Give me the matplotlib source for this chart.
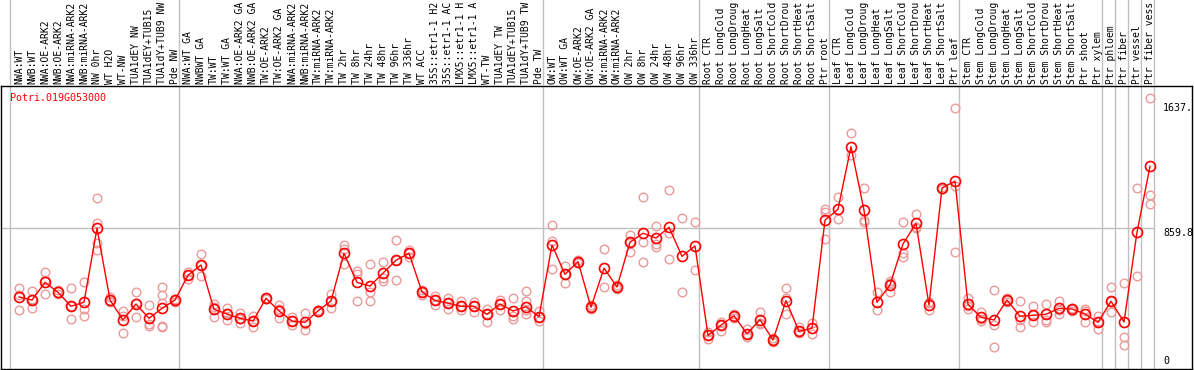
import numpy as np
import matplotlib.pyplot as plt

# sample names, left to right
samples = [
    'NWA:WT', 'NWB:WT', 'NWA:OE-ARK2', 'NWB:OE-ARK2', 'NWA:miRNA-ARK2',
    'NWB:miRNA-ARK2', 'NW 0hr', 'WT H2O', 'WT-NW', 'TUA1dEY NW',
    'TUA1dEY+TUB15 NW', 'TUA1dY+TUB9 NW', 'Pde NW',
    'NWA:WT GA', 'NWBWT GA', 'TW:WT', 'TW:WT GA', 'NWA:OE-ARK2 GA',
    'NWB:OE-ARK2 GA', 'TW:OE-ARK2', 'TW:OE-ARK2 GA', 'NWA:miRNA-ARK2',
    'NWB:miRNA-ARK2', 'TW:miRNA-ARK2', 'TW:miRNA-ARK2', 'TW 2hr', 'TW 8hr',
    'TW 24hr', 'TW 48hr', 'TW 96hr', 'TW 336hr', 'WT ACC', '35S::etr1-1 H2O',
    '35S::etr1-1 ACC', 'LMX5::etr1-1 H2O', 'LMX5::etr1-1 ACC', 'WT-TW',
    'TUA1dEY TW', 'TUA1dEY+TUB15 TW', 'TUA1dY+TUB9 TW', 'Pde TW',
    'OW:WT', 'OW:WT GA', 'OW:OE-ARK2', 'OW:OE-ARK2 GA', 'OW:miRNA-ARK2',
    'OW:miRNA-ARK2', 'OW 2hr', 'OW 8hr', 'OW 24hr', 'OW 48hr', 'OW 96hr',
    'OW 336hr',
    'Root CTR', 'Root LongCold', 'Root LongDrought', 'Root LongHeat',
    'Root LongSalt', 'Root ShortCold', 'Root ShortDrought', 'Root ShortHeat',
    'Root ShortSalt', 'Ptr root',
    'Leaf CTR', 'Leaf LongCold', 'Leaf LongDrought', 'Leaf LongHeat',
    'Leaf LongSalt', 'Leaf ShortCold', 'Leaf ShortDrought', 'Leaf ShortHeat',
    'Leaf ShortSalt', 'Ptr leaf',
    'Stem CTR', 'Stem LongCold', 'Stem LongDrought', 'Stem LongHeat',
    'Stem LongSalt', 'Stem ShortCold', 'Stem ShortDrought', 'Stem ShortHeat',
    'Stem ShortSalt', 'Ptr shoot', 'Ptr xylem',
    'Ptr phloem', 'Ptr fiber', 'Ptr vessel', 'Ptr fiber vessel',
]

# mean expression per sample
means = [
    430, 411, 521, 459, 372, 397, 858, 411, 287, 386, 297, 359, 411,
    565, 629, 353, 324, 297, 280, 422, 343, 280, 272, 343, 405, 702, 521,
    498, 578, 659, 702, 461, 409, 391, 372, 372, 322, 386, 343, 369, 307,
    754, 571, 650, 366, 609, 492, 771, 827, 797, 864, 683, 748,
    191, 254, 313, 201, 288, 162, 407, 216, 235, 908,
    976, 1366, 970, 397, 505, 760, 889, 380, 1109, 1151,
    384, 303, 287, 411, 310, 316, 322, 359, 355, 324, 272,
    403, 274, 833, 1244,
]

# individual replicates per sample
replicates = [
    [484, 440, 349], [467, 415, 361], [584, 536, 449], [473, 449],
    [486, 372, 293], [523, 355, 310], [1047, 891, 766, 723], [428, 397, 405],
    [343, 312, 206], [461, 394, 303], [380, 260, 251],
    [492, 440, 394, 251, 241], [419, 411, 401],
    [587, 565, 543], [698, 629, 561], [388, 307, 365], [359, 285, 328],
    [332, 266, 293], [312, 245, 283], [422, 418, 426], [380, 297, 352],
    [307, 280, 255], [328, 224, 264], [343, 350, 336], [449, 405, 363],
    [754, 727, 634], [592, 571, 405], [634, 459, 405], [646, 546, 531],
    [783, 659, 534], [723, 702, 681], [473, 461, 442], [436, 409, 382],
    [422, 391, 355], [405, 372, 349], [401, 372, 338], [355, 322, 276],
    [411, 386, 347], [422, 313, 295], [467, 407, 349, 324], [345, 307, 280],
    [877, 781, 603], [625, 571, 515], [660, 650, 640], [380, 366, 352],
    [727, 490], [492, 480, 504], [819, 771, 712], [1051, 774, 650],
    [870, 760, 743], [1095, 827, 665], [920, 459], [895, 596],
    [210, 191, 170], [272, 254, 220], [324, 313, 302], [230, 201, 183],
    [335, 266, 263], [173, 162, 151], [484, 422, 324], [245, 216, 204],
    [266, 197], [976, 961, 789],
    [1051, 913], [1449, 1315], [1111, 910, 896], [459, 349],
    [530, 520, 463], [895, 702, 681], [945, 858, 864], [394, 349, 396],
    [1117, 1105, 1101], [1605, 1121, 708],
    [422, 375, 355], [338, 290, 282], [472, 255, 117], [422, 411, 397],
    [403, 287, 245], [374, 316, 272], [386, 287, 272], [405, 350, 322],
    [363, 355, 345], [355, 340, 276], [313, 272, 232],
    [490, 403, 335], [517, 181, 129], [1107, 559], [1668, 1064, 1008],
]

group_starts = [0, 13, 41, 53, 63, 73, 84, 85, 86, 87, 88]
gene = 'Potri.019G053000'
scale_values = [1637.0, 859.8, 0.0]
scale_texts = ['1637.', '859.8', '0']

W, H = 1194, 370
mono = 'DejaVu Sans Mono'
fs = 7.2
grey = '#c0c0c0'
rep_color = '#eb9a9a'

fig = plt.figure(figsize=(W / 100, H / 100), dpi=100)
ax = fig.add_axes([1 / W, 1 / H, 1191 / W, 283 / H])
ax_lab = fig.add_axes([1 / W, 284 / H, 1191 / W, 86 / H], sharex=ax)

x = np.arange(len(samples))
xlim = ((1 - 19) / 13, (1192 - 19) / 13)
off = 0.654

# group separators (through both panels)
for b in group_starts:
    ax.axvline(b - off, color=grey, lw=1, zorder=0)
    ax_lab.axvline(b - off, color=grey, lw=1, zorder=0)
ax.hlines(859.8, xlim[0], group_starts[-1] - off, color=grey, lw=1, zorder=0)

# replicates, then the mean line
for xi, reps in zip(x, replicates):
    ax.plot([xi] * len(reps), reps, 'o', ms=6.2, mfc='none', mec=rep_color,
            mew=1.0, zorder=2)
ax.plot(x, means, '-', color='red', lw=1.0, zorder=3)
ax.plot(x, means, 'o', ms=7.2, mfc='none', mec='red', mew=1.2, zorder=4)

ax.set_xlim(*xlim)
ax.set_ylim(-18.7, 1744)
ax.set_xticks([])
ax.set_yticks([])
for s in ax.spines.values():
    s.set_color('black')
    s.set_linewidth(1.0)

ax.text(-0.67, 1700, gene, color='red', fontsize=fs, family=mono,
        ha='left', va='top')
for v, t in zip(scale_values, scale_texts):
    ax.text(88.0, v, t, fontsize=fs, family=mono, ha='left',
            va='bottom' if v == 0 else 'top', clip_on=True)

# sample names on top, cut to 14 characters like the original
ax_lab.set_ylim(0, 86)
ax_lab.axis('off')
for xi, name in zip(x, samples):
    ax_lab.text(xi, 2, name[:14].rstrip(), rotation=90, fontsize=7.0,
                family=mono, ha='center', va='bottom')

fig.savefig('out.png', dpi=100)
